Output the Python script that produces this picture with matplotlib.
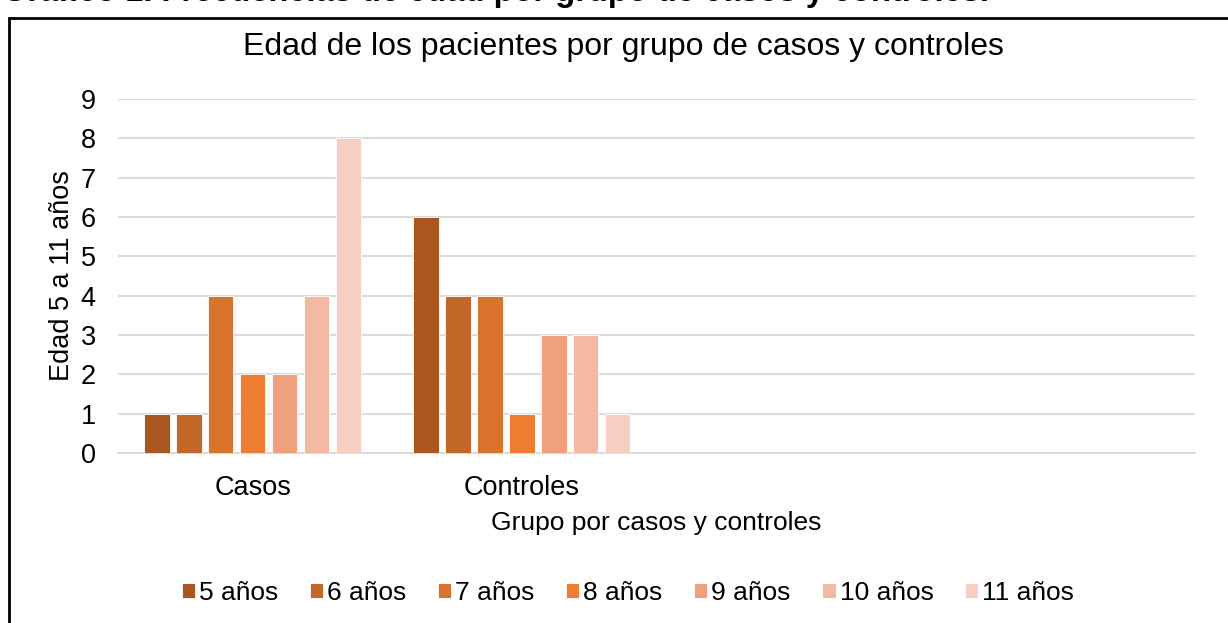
import matplotlib.pyplot as plt
from matplotlib.patches import Rectangle
import numpy as np

plt.rcParams['font.family'] = ['Liberation Sans', 'DejaVu Sans']

grupos = ["Casos", "Controles", "", ""]
edades = ["5 años", "6 años", "7 años", "8 años", "9 años", "10 años", "11 años"]
casos = [1, 1, 4, 2, 2, 4, 8]
controles = [6, 4, 4, 1, 3, 3, 1]
colores = ["#A9571F", "#C4672A", "#D9722D", "#ED7D31", "#F0A07C", "#F3B9A5", "#F7CEC2"]

fig = plt.figure(figsize=(12.28, 6.23), dpi=100)
ax = fig.add_axes([118/1228, 1-453/623, (1195-118)/1228, (453-99)/623])

x = np.arange(len(grupos))
slot = 0.83 / len(edades)
for i, edad in enumerate(edades):
    vals = [casos[i], controles[i]]
    pos = x[:2] + (i - 3) * slot
    ax.bar(pos, vals, width=slot*0.8, color=colores[i],
           edgecolor="white", linewidth=0.6, label=edad, zorder=3)

ax.set_xlim(-0.5, len(grupos) - 0.5)
ax.set_ylim(0, 9)
ax.set_yticks(range(10))
ax.set_xticks(x)
ax.set_xticklabels(grupos)
ax.tick_params(length=0, labelsize=19.5)
ax.tick_params(axis="x", pad=16)
ax.tick_params(axis="y", pad=16)
ax.grid(axis="y", color="#D9D9D9", linewidth=1.3, zorder=0)
for s in ["top", "right", "left"]:
    ax.spines[s].set_visible(False)
ax.spines["bottom"].set_color("#D9D9D9")
ax.spines["bottom"].set_linewidth(1.3)

ax.set_ylabel("Edad 5 a 11 años", fontsize=19.5, labelpad=4)
ax.set_xlabel("Grupo por casos y controles", fontsize=19, labelpad=7)
fig.text(623/1228, 1-47/623, "Edad de los pacientes por grupo de casos y controles",
         fontsize=23, ha="center", va="center")

ax.legend(loc="center", bbox_to_anchor=(628/1228, 1-593/623), bbox_transform=fig.transFigure,
          ncol=7, frameon=False, fontsize=19, handlelength=0.5, handleheight=0.5,
          handletextpad=0.15, columnspacing=1.2)

fig.text(2/1228, 1+7/623, "Gráfico 1. Frecuencias de edad por grupo de casos y controles.",
         fontsize=23.5, fontweight="bold", va="center", ha="left")
fig.patches.append(Rectangle((9/1228, -0.05), 1.0, 1-18/623+0.05, transform=fig.transFigure,
                             fill=False, edgecolor="black", linewidth=2))

fig.savefig("out.png", dpi=100)
